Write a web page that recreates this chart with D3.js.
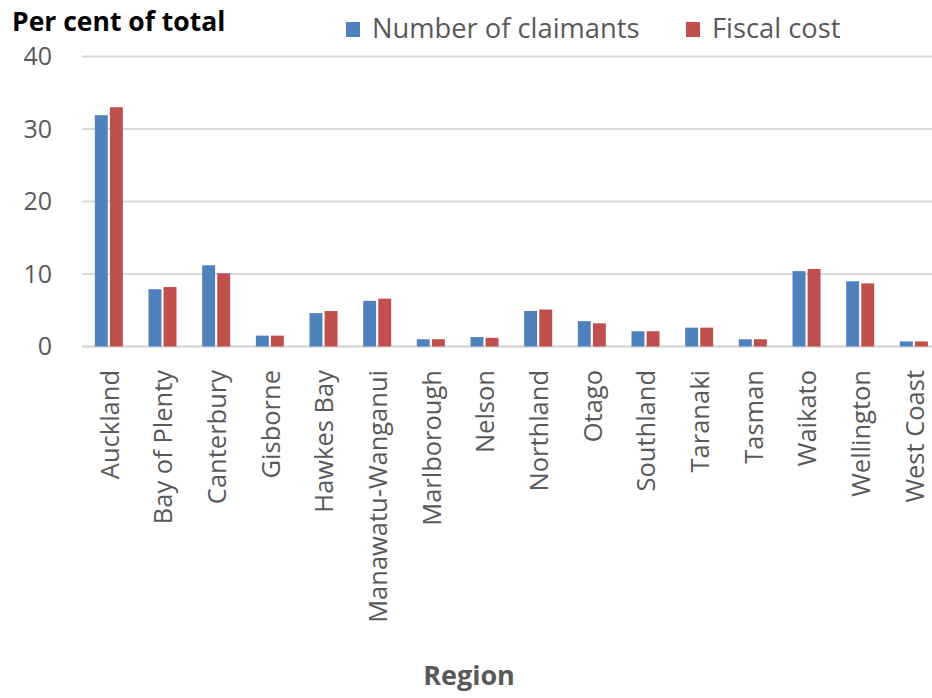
<!DOCTYPE html>
<html>
<head>
<meta charset="utf-8">
<script src="https://cdn.jsdelivr.net/npm/d3@7/dist/d3.min.js"></script>
<style>
  html, body { margin: 0; padding: 0; background: #fff; }
  svg { display: block; }
  text { font-family: "Open Sans", Lato, sans-serif; }
</style>
</head>
<body>
<svg id="chart" width="932" height="698"></svg>
<script>
// Regional share of benefit claimants and of fiscal cost (per cent of total)
const regions = ["Auckland", "Bay of Plenty", "Canterbury", "Gisborne", "Hawkes Bay",
  "Manawatu-Wanganui", "Marlborough", "Nelson", "Northland", "Otago", "Southland",
  "Taranaki", "Tasman", "Waikato", "Wellington", "West Coast"];
const claimants = [31.9, 7.9, 11.2, 1.5, 4.6, 6.3, 1.0, 1.3, 4.9, 3.5, 2.1, 2.6, 1.0, 10.4, 9.0, 0.7];
const fiscalCost = [33.0, 8.2, 10.1, 1.5, 4.9, 6.6, 1.0, 1.2, 5.1, 3.2, 2.1, 2.6, 1.0, 10.7, 8.7, 0.7];
const seriesNames = ["Number of claimants", "Fiscal cost"];
const seriesColors = ["#4F81BD", "#C0504D"];
const yTicks = [0, 10, 20, 30, 40];

const svg = d3.select("#chart");
const grey = "#595959";

const x0 = d3.scaleBand().domain(regions).range([82, 940.7])
  .paddingInner(0.478).paddingOuter(0.239);
const x1 = d3.scaleBand().domain(seriesNames).range([0, x0.bandwidth()]).paddingInner(0.143);
const y = d3.scaleLinear().domain([0, 40]).range([346.5, 56.5]);

// horizontal gridlines and baseline
svg.append("g").selectAll("line").data(yTicks).join("line")
  .attr("x1", 82).attr("x2", 932)
  .attr("y1", d => y(d)).attr("y2", d => y(d))
  .attr("stroke", "#d9d9d9").attr("stroke-width", d => d === 0 ? 2.5 : 2);

// y-axis labels
const yAxis = d3.axisLeft(y).tickValues(yTicks).tickSize(0).tickPadding(0);
const ya = svg.append("g").attr("transform", "translate(52,0)").call(yAxis);
ya.select(".domain").remove();
ya.selectAll("text").attr("fill", grey).style("font-size", "25px")
  .style("font-family", "'Open Sans', sans-serif");

// grouped bars
const rows = regions.map((r, i) => ({ region: r, values: [claimants[i], fiscalCost[i]] }));
const groups = svg.append("g").selectAll("g").data(rows).join("g")
  .attr("transform", d => `translate(${x0(d.region)},0)`);
groups.selectAll("rect").data(d => d.values.map((v, k) => ({ v, k }))).join("rect")
  .attr("x", d => x1(seriesNames[d.k]))
  .attr("width", x1.bandwidth())
  .attr("y", d => y(d.v))
  .attr("height", d => y(0) - y(d.v))
  .attr("fill", d => seriesColors[d.k]);

// category labels, rotated
const xAxis = d3.axisBottom(x0).tickSize(0).tickPadding(0);
const xa = svg.append("g").attr("transform", "translate(0,370)").call(xAxis);
xa.select(".domain").remove();
xa.selectAll("text")
  .attr("transform", "rotate(-90)")
  .attr("text-anchor", "end")
  .attr("x", 0).attr("y", 0).attr("dy", "0.38em").attr("dx", 0)
  .attr("fill", grey).style("font-size", "25.5px")
  .style("font-family", "'Open Sans', sans-serif");

// titles
svg.append("text").attr("x", 12).attr("y", 31).text("Per cent of total")
  .attr("font-weight", "bold").attr("fill", "#000").style("font-size", "26.5px");
svg.append("text").attr("x", 469).attr("y", 685).attr("text-anchor", "middle").text("Region")
  .attr("font-weight", "bold").attr("fill", grey).style("font-size", "27px");

// legend
const legendX = [346, 686];
const lg = svg.append("g").selectAll("g").data(seriesNames).join("g")
  .attr("transform", (d, i) => `translate(${legendX[i]},0)`);
lg.append("rect").attr("x", 0).attr("y", 22).attr("width", 14).attr("height", 15)
  .attr("fill", (d, i) => seriesColors[i]);
lg.append("text").attr("x", 26).attr("y", 38).text(d => d)
  .attr("fill", grey).style("font-size", "27.3px");
</script>
</body>
</html>
